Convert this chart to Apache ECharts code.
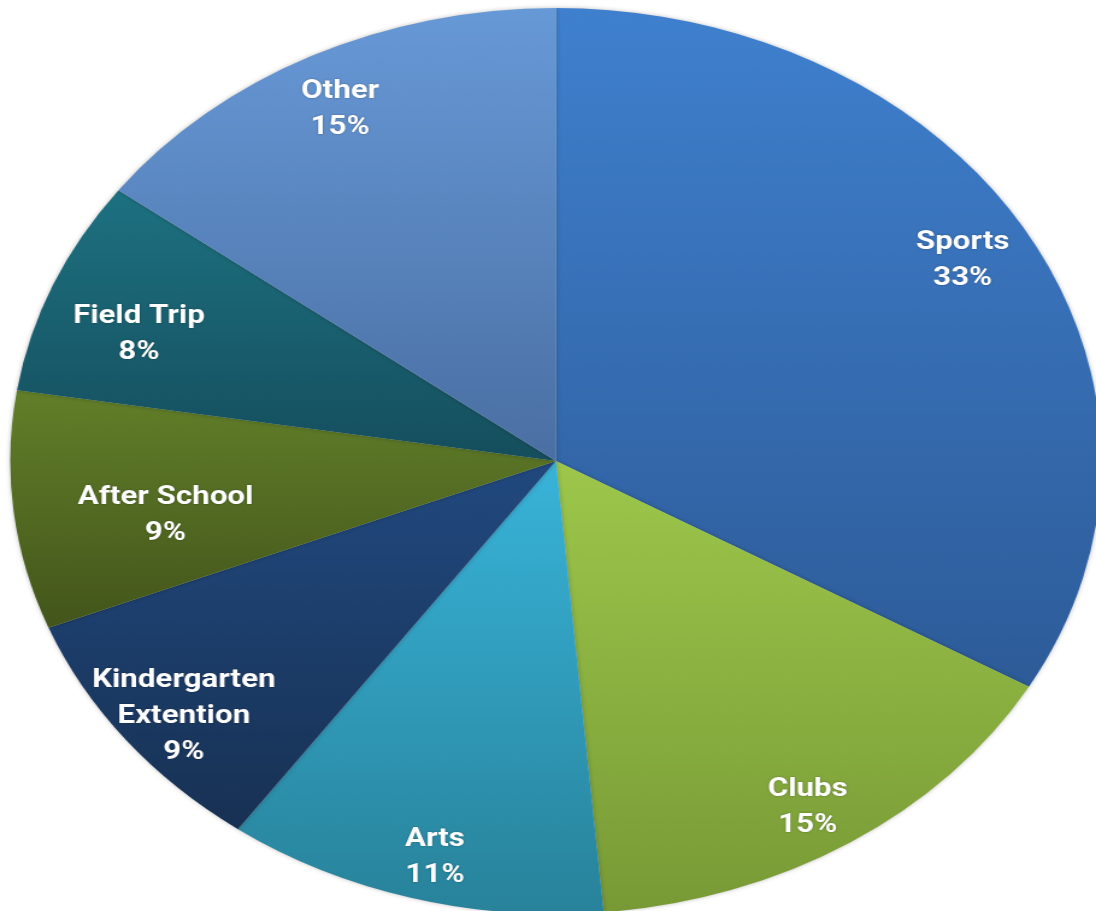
<!DOCTYPE html>
<html>
<head>
<meta charset="utf-8">
<script src="https://cdn.jsdelivr.net/npm/echarts@6/dist/echarts.min.js"></script>
<style>
  html, body { margin: 0; padding: 0; background: #fff; overflow: hidden; }
  #wrap { width: 1096px; height: 911px; overflow: hidden; position: relative; }
  /* the source pie is stretched sideways, so the chart is drawn round and scaled */
  #chart { width: 910px; height: 911px; transform: scaleX(1.2044); transform-origin: 0 0; }
</style>
</head>
<body>
<div id="wrap"><div id="chart"></div></div>
<script>
const categories = ['Sports', 'Clubs', 'Arts', 'Kindergarten\nExtention', 'After School', 'Field Trip', 'Other'];
const shares = [33.3, 15.3, 11.3, 9.1, 8.5, 7.7, 14.8];
const topColors = ['#3f80ce', '#9dc74b', '#38b4d9', '#21497f', '#627f29', '#1d7181', '#6799d7'];
const bottomColors = ['#2d5b98', '#789a36', '#28829a', '#173153', '#43551b', '#154e5d', '#4a6fa3'];
// small nudges for labels the source placed off the default ring
const labelShift = { 0: [-8, 0], 1: [-6, 10], 2: [5, 11], 3: [6, 10], 4: [73, 11], 5: [22, 29], 6: [0, 6] };

const chart = echarts.init(document.getElementById('chart'));

const sliceData = categories.map((name, i) => ({
    name: name,
    value: shares[i],
    itemStyle: {
        color: new echarts.graphic.LinearGradient(0, 0, 0, 1, [
            { offset: 0, color: topColors[i] },
            { offset: 1, color: bottomColors[i] }
        ])
    }
}));

const labelData = categories.map((name, i) => ({ name: name, value: shares[i] }));

const option = {
    animation: false,
    series: [
        {
            type: 'pie',
            center: [461.5, 461],
            radius: [0, 453],
            startAngle: 90,
            clockwise: true,
            data: sliceData,
            label: { show: false },
            labelLine: { show: false },
            itemStyle: {
                borderWidth: 0,
                shadowBlur: 4,
                shadowColor: 'rgba(0,0,0,0.25)'
            },
            emphasis: { disabled: true }
        },
        {
            // transparent ring that only carries the labels at ~0.87 r
            type: 'pie',
            center: [461.5, 461],
            radius: [340, 453],
            startAngle: 90,
            clockwise: true,
            percentPrecision: 0,
            data: labelData,
            silent: true,
            itemStyle: { color: 'rgba(0,0,0,0)' },
            labelLine: { show: false },
            label: {
                show: true,
                position: 'inside',
                formatter: '{b}\n{d}%',
                color: '#ffffff',
                fontFamily: 'Roboto',
                fontWeight: 'bold',
                fontSize: 26,
                lineHeight: 36,
                align: 'center',
                textShadowColor: 'rgba(0,0,0,0.35)',
                textShadowBlur: 2
            },
            labelLayout: function (params) {
                const s = labelShift[params.dataIndex];
                return s ? { dx: s[0], dy: s[1] } : {};
            },
            emphasis: { disabled: true }
        }
    ]
};
chart.setOption(option);
</script>
</body>
</html>
